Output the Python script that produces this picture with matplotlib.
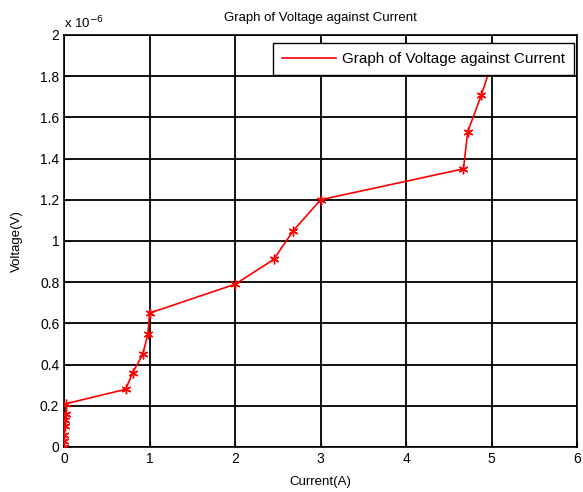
import matplotlib
matplotlib.use("Agg")
import matplotlib.pyplot as plt
from matplotlib.ticker import FuncFormatter
from matplotlib.lines import Line2D

plt.rcParams['font.family'] = ['Liberation Sans', 'DejaVu Sans']

current = [0.0, 0.0, 0.0, 0.01, 0.01, 0.02, 0.02, 0.72, 0.80, 0.92, 0.98, 1.0,
           2.0, 2.45, 2.68, 3.0, 4.67, 4.72, 4.88, 5.0]
voltage_uv = [0.0, 0.03, 0.06, 0.10, 0.13, 0.16, 0.21, 0.28, 0.36, 0.45, 0.55, 0.65,
              0.79, 0.91, 1.05, 1.20, 1.35, 1.53, 1.71, 1.86]

xticks = [0, 1, 2, 3, 4, 5, 6]
yticks_uv = [0, 0.2, 0.4, 0.6, 0.8, 1.0, 1.2, 1.4, 1.6, 1.8, 2.0]
series_label = "Graph of Voltage against Current"

fig = plt.figure(figsize=(5.83, 4.92), dpi=100)
ax = fig.add_axes([0.11, 0.0915, 0.88, 0.8375])
ax.plot(current, voltage_uv, color="red", lw=1.2,
        marker=(6, 2, 0), markersize=7, markeredgecolor="red", zorder=3)
ax.set_xlim(0, 6)
ax.set_ylim(0, 2)
ax.set_xticks(xticks)
ax.set_yticks(yticks_uv)
ax.yaxis.set_major_formatter(FuncFormatter(lambda v, p: f"{v:g}"))
ax.grid(True, color="black", lw=1.3, ls="-")
ax.tick_params(direction="in", labelsize=10, length=4)
for s in ax.spines.values():
    s.set_linewidth(1.2)
ax.set_title("Graph of Voltage against Current", fontsize=9.5, pad=10)
ax.set_xlabel("Current(A)", fontsize=9.5, labelpad=7)
ax.set_ylabel("Voltage(V)", fontsize=9.5, labelpad=12)
ax.text(0.0, 1.01, r"x 10$^{-6}$", transform=ax.transAxes, fontsize=9.5,
        ha="left", va="bottom")
handle = Line2D([], [], color="red", lw=1.2)
leg = ax.legend([handle], [series_label], loc="upper right",
                bbox_to_anchor=(0.994, 0.981), borderaxespad=0,
                fontsize=11, fancybox=False, framealpha=1, borderpad=0.6,
                edgecolor="black", handlelength=3.5, handletextpad=0.4)
leg.get_frame().set_linewidth(1.0)
leg.set_zorder(5)
fig.savefig("out.png", dpi=100, facecolor="white")
